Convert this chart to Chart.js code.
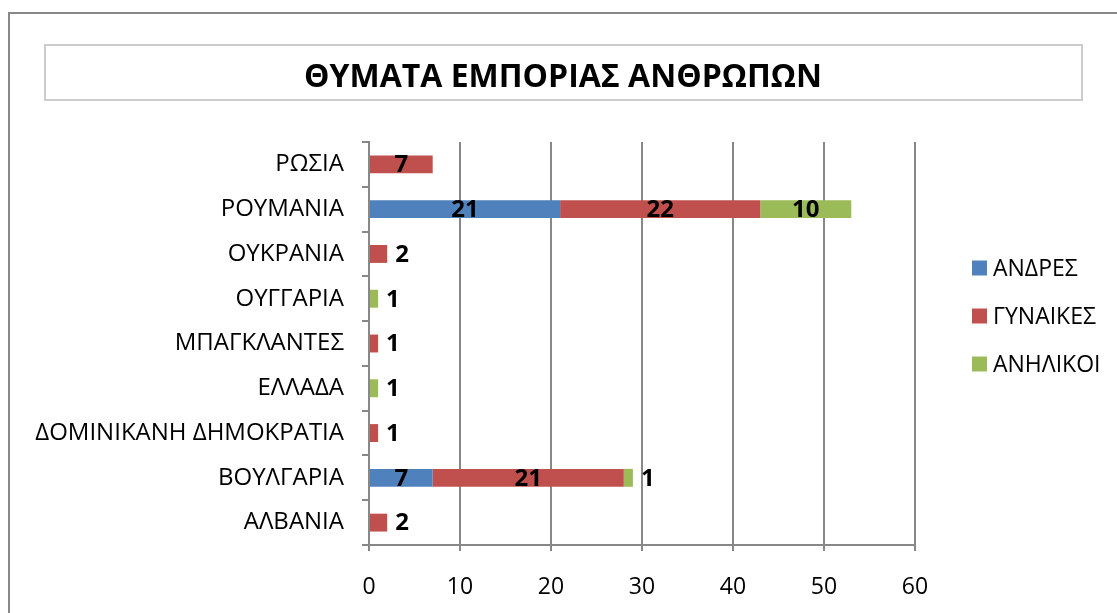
<!DOCTYPE html>
<html>
<head>
<meta charset="utf-8">
<style>
    html, body { margin: 0; padding: 0; background: #fff; }
    #wrap { width: 1117px; height: 613px; position: relative; }
</style>
</head>
<body>
<div id="wrap"><canvas id="myChart" width="1117" height="613"></canvas></div>

<script src="https://cdn.jsdelivr.net/npm/chart.js@4"></script>
<script>
    // chart data
    const countries = ['ΡΩΣΙΑ', 'ΡΟΥΜΑΝΙΑ', 'ΟΥΚΡΑΝΙΑ', 'ΟΥΓΓΑΡΙΑ', 'ΜΠΑΓΚΛΑΝΤΕΣ', 'ΕΛΛΑΔΑ', 'ΔΟΜΙΝΙΚΑΝΗ ΔΗΜΟΚΡΑΤΙΑ', 'ΒΟΥΛΓΑΡΙΑ', 'ΑΛΒΑΝΙΑ'];
    const men = [0, 21, 0, 0, 0, 0, 0, 7, 0];
    const women = [7, 22, 2, 0, 1, 0, 1, 21, 2];
    const minors = [0, 10, 0, 1, 0, 1, 0, 1, 0];
    const xTicks = [0, 10, 20, 30, 40, 50, 60];
    const chartTitle = 'ΘΥΜΑΤΑ ΕΜΠΟΡΙΑΣ ΑΝΘΡΩΠΩΝ';

    const FONT = "'Open Sans', 'Noto Sans', sans-serif";
    const GRID = '#888888';

    // frame, title box and title text
    const framePlugin = {
        id: 'frame',
        beforeDraw(chart) {
            const c = chart.ctx;
            c.save();
            c.fillStyle = '#fff';
            c.fillRect(0, 0, chart.width, chart.height);
            c.strokeStyle = GRID;
            c.lineWidth = 2;
            c.beginPath();
            c.moveTo(9, chart.height);
            c.lineTo(9, 13);
            c.lineTo(chart.width, 13);
            c.stroke();

            c.strokeStyle = '#cccccc';
            c.lineWidth = 2;
            c.strokeRect(45, 45, 1037, 55);

            c.fillStyle = '#000';
            c.font = "bold 32px " + FONT;
            c.textAlign = 'center';
            c.textBaseline = 'middle';
            c.fillText(chartTitle, 563, 78);
            c.restore();
        }
    };

    // value labels: centred when they fit, otherwise just right of the bar
    const labelPlugin = {
        id: 'valueLabels',
        afterDatasetsDraw(chart) {
            const c = chart.ctx;
            c.save();
            c.fillStyle = '#000';
            c.font = "bold 24px " + FONT;
            c.textBaseline = 'middle';
            chart.data.datasets.forEach((ds, i) => {
                const meta = chart.getDatasetMeta(i);
                meta.data.forEach((bar, j) => {
                    const v = ds.data[j];
                    if (!v) return;
                    const w = Math.abs(bar.x - bar.base);
                    if (w > 30) {
                        c.textAlign = 'center';
                        c.fillText(String(v), (bar.x + bar.base) / 2, bar.y + 1);
                    } else {
                        c.textAlign = 'left';
                        c.fillText(String(v), bar.x + 8, bar.y + 1);
                    }
                });
            });
            c.restore();
        }
    };

    // legend on the right
    const legendPlugin = {
        id: 'sideLegend',
        afterDraw(chart) {
            const c = chart.ctx;
            c.save();
            c.font = "23px " + FONT;
            c.textBaseline = 'middle';
            c.textAlign = 'left';
            chart.data.datasets.forEach((ds, i) => {
                const y = 268 + i * 48;
                c.fillStyle = ds.backgroundColor;
                c.fillRect(972, y - 7.5, 15, 15);
                c.fillStyle = '#000';
                c.fillText(ds.label, 993, y + 1);
            });
            c.restore();
        }
    };

    const ctx = document.getElementById('myChart');

    let chart = new Chart(ctx, {
        type: 'bar',
        data: {
            labels: countries,
            datasets: [
                { label: 'ΑΝΔΡΕΣ', data: men, backgroundColor: '#4F81BD' },
                { label: 'ΓΥΝΑΙΚΕΣ', data: women, backgroundColor: '#C0504D' },
                { label: 'ΑΝΗΛΙΚΟΙ', data: minors, backgroundColor: '#9BBB59' }
            ]
        },
        options: {
            indexAxis: 'y',
            responsive: false,
            animation: false,
            devicePixelRatio: 1,
            categoryPercentage: 1,
            barPercentage: 0.4,
            layout: { padding: { top: 142, right: 202, left: 0, bottom: 0 } },
            plugins: {
                legend: { display: false },
                title: { display: false },
                tooltip: { enabled: false }
            },
            scales: {
                x: {
                    stacked: true,
                    min: 0,
                    max: 60,
                    afterBuildTicks: (s) => { s.ticks = xTicks.map(v => ({ value: v })); },
                    afterFit: (s) => { s.height = 68; },
                    grid: { color: GRID, lineWidth: 2, tickLength: 6, drawTicks: true },
                    border: { color: GRID, width: 2 },
                    ticks: { color: '#000', padding: 23, font: { family: FONT, size: 23 } }
                },
                y: {
                    stacked: true,
                    afterFit: (s) => { s.width = 369; },
                    grid: { drawOnChartArea: false, color: GRID, lineWidth: 2, tickLength: 7 },
                    border: { color: GRID, width: 2 },
                    ticks: { color: '#000', padding: 18, font: { family: FONT, size: 24 } }
                }
            }
        },
        plugins: [framePlugin, labelPlugin, legendPlugin]
    });
</script>
</body>
</html>
